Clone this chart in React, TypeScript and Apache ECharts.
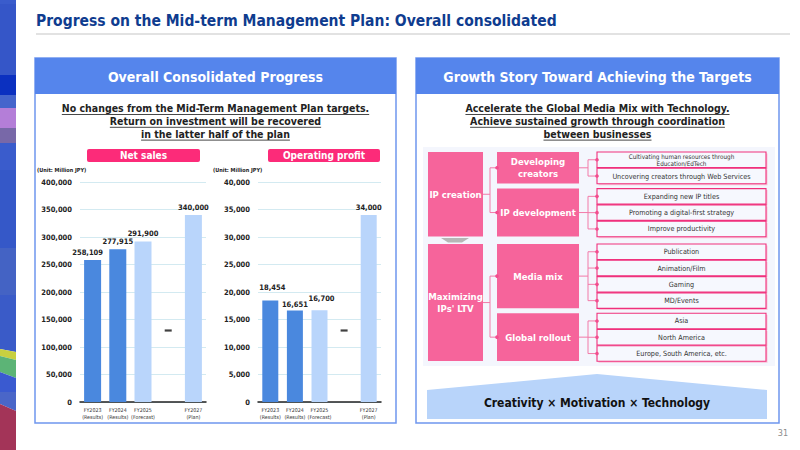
import React, { useEffect, useRef } from 'react';
import * as echarts from 'echarts';

// ---- Chart data ----
const categories = ['FY2023', 'FY2024', 'FY2025', 'FY2026', 'FY2027'];
const periodNotes = ['(Results)', '(Results)', '(Forecast)', '', '(Plan)'];
const periodKinds = ['results', 'results', 'forecast', 'none', 'plan'];
const netSales = [258109, 277915, 291900, null, 340000];
const operatingProfit = [18454, 16651, 16700, null, 34000];
const netSalesAxis = { min: 0, max: 400000, interval: 50000 };
const profitAxis = { min: 0, max: 40000, interval: 5000 };
// dash shown in the skipped year
const gapYear = 'FY2026';
const gapMarkNetSales = 130000;
const gapMarkProfit = 13000;

// ---- Slide texts ----
const headline = 'Progress on the Mid-term Management Plan: Overall consolidated';
const leftTitle = 'Overall Consolidated Progress';
const leftMessage = [
  'No changes from the Mid-Term Management Plan targets.',
  'Return on investment will be recovered',
  'in the latter half of the plan',
];
const rightTitle = 'Growth Story Toward Achieving the Targets';
const rightMessage = [
  'Accelerate the Global Media Mix with Technology.',
  'Achieve sustained growth through coordination',
  'between businesses',
];
const unitText = '(Unit: Million JPY)';
const chartTitles = ['Net sales', 'Operating profit'];
const foundation = 'Creativity \u00d7 Motivation \u00d7 Technology';
const pageNumber = '31';

const storyStages = [
  {
    stage: 'IP creation',
    drivers: [
      { name: 'Developing\ncreators', items: ['Cultivating human resources through\nEducation/EdTech', 'Uncovering creators through Web Services'] },
      { name: 'IP development', items: ['Expanding new IP titles', 'Promoting a digital-first strategy', 'Improve productivity'] },
    ],
  },
  {
    stage: "Maximizing\nIPs' LTV",
    drivers: [
      { name: 'Media mix', items: ['Publication', 'Animation/Film', 'Gaming', 'MD/Events'] },
      { name: 'Global rollout', items: ['Asia', 'North America', 'Europe, South America, etc.'] },
    ],
  },
];

// ---- Styling ----
const FONT = "'DejaVu Sans Condensed', 'DejaVu Sans', sans-serif";
const BLUE_HEADER = '#5585ec';
const PANEL_BORDER = '#6f96ee';
const PINK = '#f6649b';
const PINK_STRONG = '#f0307c';
const PINK_LINE = '#f27aa8';
const BAR_COLORS: Record<string, string> = {
  results: '#4a88de',
  forecast: '#b9d5fb',
  plan: '#b9d5fb',
  none: 'transparent',
};

let measureCtx: CanvasRenderingContext2D | null = null;
function textWidth(text: string, size: number, weight: string) {
  if (!measureCtx) measureCtx = document.createElement('canvas').getContext('2d');
  if (!measureCtx) return text.length * size * 0.6;
  measureCtx.font = `${weight} ${size}px ${FONT}`;
  return measureCtx.measureText(text).width;
}

function txt(text: string, x: number, y: number, size: number, opts: any = {}) {
  return {
    type: 'text',
    z: 5,
    silent: true,
    style: {
      text,
      x,
      y,
      fill: opts.fill || '#222',
      fontSize: size,
      fontWeight: opts.weight || 'normal',
      fontFamily: FONT,
      textAlign: opts.align || 'center',
      textVerticalAlign: 'middle',
      lineHeight: opts.lineHeight,
    },
  };
}

function underlinedBlock(lines: string[], cx: number, y0: number, step: number, size: number) {
  const els: any[] = [];
  lines.forEach((line, i) => {
    const y = y0 + i * step;
    els.push(txt(line, cx, y, size, { weight: 'bold', fill: '#222' }));
    const w = textWidth(line, size, 'bold');
    els.push({
      type: 'line',
      z: 5,
      silent: true,
      shape: { x1: cx - w / 2, y1: y + size * 0.62, x2: cx + w / 2, y2: y + size * 0.62 },
      style: { stroke: '#333', lineWidth: 0.9 },
    });
  });
  return els;
}

function panel(x: number, w: number, title: string) {
  return [
    { type: 'rect', z: -10, silent: true, shape: { x, y: 58, width: w, height: 365 }, style: { fill: '#fff', stroke: PANEL_BORDER, lineWidth: 1.5 } },
    { type: 'rect', z: -9, silent: true, shape: { x, y: 58, width: w, height: 36 }, style: { fill: BLUE_HEADER } },
    txt(title, x + w / 2, 76.5, 14, { weight: 'bold', fill: '#fff' }),
  ];
}

function sideStripe() {
  const blocks: [number, number, number, number, string][] = [
    [0, 0, 4, 4, '#3a5ccc'],
    [4, 4, 75, 75, '#3556c8'],
    [75, 75, 95, 95, '#0b30c0'],
    [95, 95, 108, 108, '#4565cc'],
    [108, 108, 128, 128, '#b47ed8'],
    [128, 128, 143, 143, '#7868a8'],
    [143, 143, 170, 170, '#3a5ccc'],
    [170, 170, 248, 248, '#3558c8'],
    [248, 248, 295, 295, '#4463c4'],
    [295, 295, 349, 352, '#3a5bc8'],
    [349, 352, 356, 360, '#c8d040'],
    [356, 360, 372, 378, '#5cb476'],
    [372, 378, 392, 392, '#3a5ad0'],
    [392, 392, 404, 411, '#4a66c8'],
    [404, 411, 450, 450, '#a33458'],
  ];
  return blocks.map(([yl0, yr0, yl1, yr1, c]) => ({
    type: 'polygon',
    z: -10,
    silent: true,
    shape: { points: [[0, yl0], [16, yr0], [16, yr1], [0, yl1]] },
    style: { fill: c },
  }));
}

function growthDiagram() {
  const els: any[] = [];
  els.push({ type: 'rect', z: -8, silent: true, shape: { x: 423, y: 147, width: 352, height: 219 }, style: { fill: '#f4f6fd' } });

  const rowH = 16.3;
  const driverGap = 4;
  const stageGap = 6.5;
  const stageX = 428, stageW = 55;
  const driverX = 497, driverW = 82;
  const itemX = 597, itemW = 169;
  const busA = 490, busB = 588;
  let y = 152;

  storyStages.forEach((st, si) => {
    const stageTop = y;
    const driverCenters: number[] = [];
    st.drivers.forEach((dr, di) => {
      const top = y;
      const h = dr.items.length * rowH;
      const itemCenters: number[] = [];
      dr.items.forEach((it, ii) => {
        const iy = top + ii * rowH;
        els.push({ type: 'rect', z: 1, silent: true, shape: { x: itemX + 1.5, y: iy + 1.5, width: itemW, height: rowH - 0.8 }, style: { fill: '#f9c3d8' } });
        els.push({ type: 'rect', z: 2, silent: true, shape: { x: itemX, y: iy, width: itemW, height: rowH - 0.8 }, style: { fill: '#f6f8fe', stroke: PINK_STRONG, lineWidth: 1.1 } });
        const twoLines = it.includes('\n');
        els.push(txt(it, itemX + itemW / 2, iy + (rowH - 0.8) / 2, twoLines ? 6.3 : 7.2, { fill: '#333', lineHeight: twoLines ? 7 : undefined }));
        itemCenters.push(iy + (rowH - 0.8) / 2);
      });
      const dh = h - 1;
      els.push({ type: 'rect', z: 2, silent: true, shape: { x: driverX, y: top, width: driverW, height: dh }, style: { fill: PINK } });
      els.push(txt(dr.name, driverX + driverW / 2, top + dh / 2, 9.5, { weight: 'bold', fill: '#fff', lineHeight: 12 }));
      const dc = top + dh / 2;
      driverCenters.push(dc);
      // driver -> items connectors
      els.push({ type: 'line', z: 1, silent: true, shape: { x1: driverX + driverW, y1: dc, x2: busB, y2: dc }, style: { stroke: PINK_LINE, lineWidth: 1 } });
      els.push({ type: 'line', z: 1, silent: true, shape: { x1: busB, y1: itemCenters[0], x2: busB, y2: itemCenters[itemCenters.length - 1] }, style: { stroke: PINK_LINE, lineWidth: 1 } });
      itemCenters.forEach((c) => {
        els.push({ type: 'line', z: 1, silent: true, shape: { x1: busB, y1: c, x2: itemX, y2: c }, style: { stroke: PINK_LINE, lineWidth: 1 } });
        els.push({ type: 'circle', z: 3, silent: true, shape: { cx: itemX, cy: c, r: 1.8 }, style: { fill: '#f24d8e' } });
      });
      y = top + h + (di < st.drivers.length - 1 ? driverGap : 0);
    });
    const stageBottom = y - 1;
    const sc = (stageTop + stageBottom) / 2;
    els.push({ type: 'rect', z: 2, silent: true, shape: { x: stageX, y: stageTop, width: stageW, height: stageBottom - stageTop }, style: { fill: PINK } });
    els.push(txt(st.stage, stageX + stageW / 2, sc, 9.5, { weight: 'bold', fill: '#fff', lineHeight: 12 }));
    // stage -> drivers connectors
    els.push({ type: 'line', z: 1, silent: true, shape: { x1: stageX + stageW, y1: sc, x2: busA, y2: sc }, style: { stroke: PINK_LINE, lineWidth: 1 } });
    els.push({ type: 'line', z: 1, silent: true, shape: { x1: busA, y1: driverCenters[0], x2: busA, y2: driverCenters[driverCenters.length - 1] }, style: { stroke: PINK_LINE, lineWidth: 1 } });
    driverCenters.forEach((c) => {
      els.push({ type: 'line', z: 1, silent: true, shape: { x1: busA, y1: c, x2: driverX, y2: c }, style: { stroke: PINK_LINE, lineWidth: 1 } });
      els.push({ type: 'circle', z: 3, silent: true, shape: { cx: driverX, cy: c, r: 1.8 }, style: { fill: '#f24d8e' } });
    });
    if (si === 0) {
      els.push({ type: 'polygon', z: 2, silent: true, shape: { points: [[441, y + 0.5], [469, y + 0.5], [462, y + 5], [448, y + 5]] }, style: { fill: '#b6b6b6' } });
    }
    y += stageGap;
  });
  return els;
}

function buildOption() {
  const axisFont = { fontFamily: FONT, fontSize: 7.5, fontWeight: 'bold' as const, color: '#222' };
  const grids = [
    { left: 80, top: 182, width: 126, height: 220 },
    { left: 258, top: 182, width: 123, height: 220 },
  ];
  const xAxes = grids.map((_, gi) => ({
    type: 'category',
    gridIndex: gi,
    data: categories,
    axisTick: { show: false },
    axisLine: { lineStyle: { color: '#222', width: 1.5 } },
    axisLabel: {
      interval: 0,
      margin: 4,
      fontFamily: FONT,
      fontSize: 5.3,
      lineHeight: 7.5,
      color: '#333',
      formatter: (v: string, i: number) => (periodNotes[i] ? `${v}\n${periodNotes[i]}` : ''),
    },
  }));
  const yAxes = [netSalesAxis, profitAxis].map((ax, gi) => ({
    type: 'value',
    gridIndex: gi,
    min: ax.min,
    max: ax.max,
    interval: ax.interval,
    axisLine: { show: false },
    axisTick: { show: false },
    axisLabel: { ...axisFont, margin: 8, formatter: (v: number) => v.toLocaleString('en-US') },
    splitLine: { lineStyle: { color: '#d3eaf1', width: 1 } },
  }));

  const labelOffsets = [
    [[-5, 0], [0, 0], [0, 0], [0, 0], [0, 0]],
    [[2, -5], [0, 2], [2, -4], [0, 0], [0, 0]],
  ];
  const barSeries = [netSales, operatingProfit].map((vals, gi) => ({
    type: 'bar',
    xAxisIndex: gi,
    yAxisIndex: gi,
    barWidth: gi === 0 ? 17 : 16,
    data: vals.map((v, i) =>
      v === null
        ? '-'
        : {
            value: v,
            itemStyle: { color: BAR_COLORS[periodKinds[i]] },
            label: { offset: labelOffsets[gi][i] },
          }
    ),
    label: {
      show: true,
      position: 'top',
      distance: 4,
      ...axisFont,
      formatter: (p: any) => Number(p.value).toLocaleString('en-US'),
    },
    z: 3,
  }));
  const dashSeries = [gapMarkNetSales, gapMarkProfit].map((v, gi) => ({
    type: 'scatter',
    xAxisIndex: gi,
    yAxisIndex: gi,
    symbol: 'rect',
    symbolSize: [7, 2.2],
    itemStyle: { color: '#111' },
    data: [[gapYear, v]],
    z: 4,
  }));

  const graphic: any[] = [
    ...sideStripe(),
    txt(headline, 36, 21, 15.5, { weight: 'bold', fill: '#0f3c8f', align: 'left' }),
    { type: 'line', z: -10, silent: true, shape: { x1: 36, y1: 34, x2: 790, y2: 34 }, style: { stroke: '#d9d9d9', lineWidth: 1.5 } },
    ...panel(35, 361, leftTitle),
    ...panel(416, 363, rightTitle),
    ...underlinedBlock(leftMessage, 215.5, 108, 12.8, 10.5),
    ...underlinedBlock(rightMessage, 597.5, 108, 12.8, 10.5),
    { type: 'rect', z: 2, silent: true, shape: { x: 87, y: 149, width: 113, height: 13, r: 2 }, style: { fill: '#fc2b79' } },
    txt(chartTitles[0], 143.5, 155.5, 10, { weight: 'bold', fill: '#fff' }),
    { type: 'rect', z: 2, silent: true, shape: { x: 268, y: 149, width: 112, height: 13, r: 2 }, style: { fill: '#fc2b79' } },
    txt(chartTitles[1], 324, 155.5, 10, { weight: 'bold', fill: '#fff' }),
    txt(unitText, 37, 170, 5.5, { weight: 'bold', align: 'left' }),
    txt(unitText, 213, 170, 5.5, { weight: 'bold', align: 'left' }),
    ...growthDiagram(),
    { type: 'polygon', z: 2, silent: true, shape: { points: [[427, 419], [427, 390], [597, 374], [767, 390], [767, 419]] }, style: { fill: '#b8d4fa' } },
    txt(foundation, 597, 403, 12, { weight: 'bold', fill: '#111' }),
    txt(pageNumber, 783, 433, 9, { fill: '#8c8c8c' }),
  ];

  return {
    animation: false,
    backgroundColor: '#ffffff',
    textStyle: { fontFamily: FONT },
    grid: grids,
    xAxis: xAxes,
    yAxis: yAxes,
    series: [...barSeries, ...dashSeries],
    graphic,
  };
}

export default function App() {
  const ref = useRef<HTMLDivElement>(null);
  useEffect(() => {
    if (!ref.current) return;
    const chart = echarts.init(ref.current, undefined, { renderer: 'svg' });
    chart.setOption(buildOption() as any);
    return () => chart.dispose();
  }, []);
  return <div ref={ref} style={{ position: 'fixed', left: 0, top: 0, width: 800, height: 450 }} />;
}
